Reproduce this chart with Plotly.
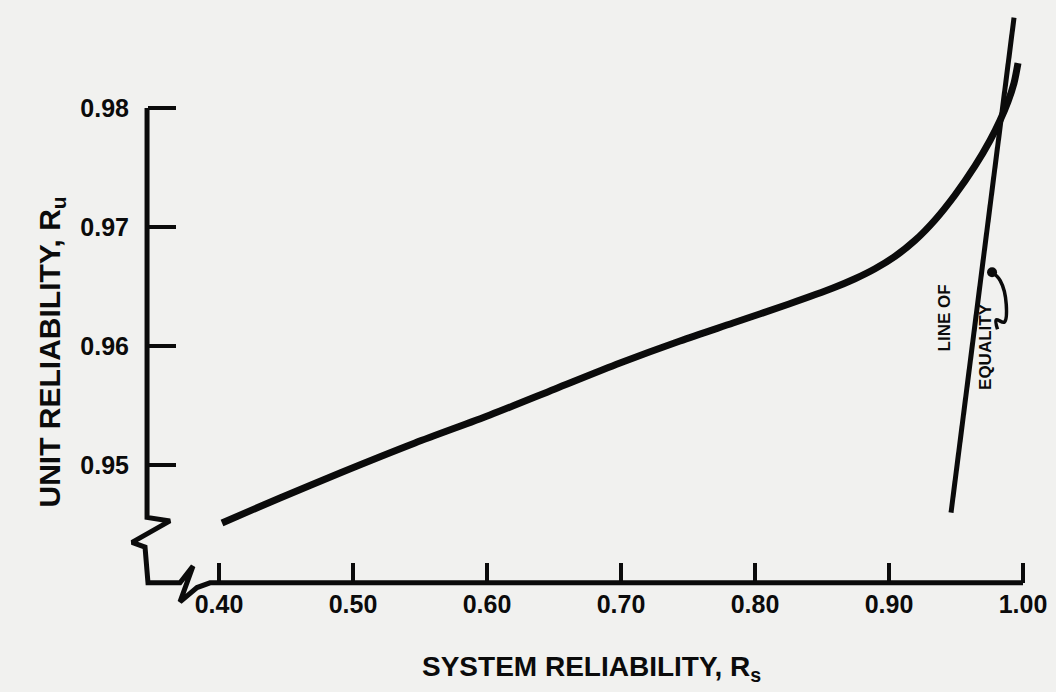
import plotly.graph_objects as go

# Unit reliability needed for a given system reliability
system_rel = [0.40224, 0.44552, 0.49030, 0.54627, 0.60224, 0.65075, 0.69925, 0.74403, 0.78358, 0.82537,
              0.85821, 0.87463, 0.88955, 0.90448, 0.91940, 0.93433, 0.94925, 0.96418, 0.97537, 0.98284,
              0.98881, 0.99328, 0.99627]
unit_rel = [0.94513, 0.94723, 0.94933, 0.95185, 0.95420, 0.95639, 0.95857, 0.96042, 0.96193, 0.96353,
            0.96487, 0.96565, 0.96649, 0.96753, 0.96887, 0.97059, 0.97269, 0.97513, 0.97727, 0.97895,
            0.98055, 0.98210, 0.98378]

# Line of equality (as drawn)
equality_x = [0.9463, 0.9933]
equality_y = [0.9460, 0.9876]

x_ticks = [0.40, 0.50, 0.60, 0.70, 0.80, 0.90, 1.00]
x_tick_labels = ["0.40", "0.50", "0.60", "0.70", "0.80", "0.90", "1.00"]
y_ticks = [0.95, 0.96, 0.97, 0.98]
y_tick_labels = ["0.95", "0.96", "0.97", "0.98"]

W, H = 1056, 692
X_RANGE = [0.236567, 1.024627]
Y_RANGE = [0.930924, 0.989076]

INK = "#0b0b0b"
PAPER = "#f1f1ef"
FAMILY = "Liberation Sans, Arial, Helvetica, sans-serif"
TICK_FONT = dict(family=FAMILY, size=25, color=INK, weight="bold")
X_TITLE_FONT = dict(family=FAMILY, size=28, color=INK, weight="bold")
Y_TITLE_FONT = dict(family=FAMILY, size=30, color=INK, weight="bold")
NOTE_FONT = dict(family=FAMILY, size=17, color=INK, weight="bold")

# axis frame with broken-scale zigzags near the origin
frame_x = [0.3463, 0.3463, 0.3634, 0.3351, 0.3448, 0.3470, 0.3709, 0.3806, 0.3709, 0.3836, 0.3933, 1.0000]
frame_y = [0.9800, 0.9456, 0.9453, 0.9435, 0.9431, 0.9401, 0.9401, 0.9415, 0.9385, 0.9397, 0.9401, 0.9401]

# leader from the label to the line of equality
leader_x = [0.9769, 0.9830, 0.9875, 0.9860, 0.9800, 0.9810]
leader_y = [0.9662, 0.9655, 0.9635, 0.9620, 0.9622, 0.9614]

fig = go.Figure()

fig.add_trace(go.Scatter(x=frame_x, y=frame_y, mode="lines",
                         line=dict(color=INK, width=5), hoverinfo="skip"))
fig.add_trace(go.Scatter(x=system_rel, y=unit_rel, mode="lines",
                         line=dict(color=INK, width=7, shape="spline", smoothing=0.8)))
fig.add_trace(go.Scatter(x=equality_x, y=equality_y, mode="lines",
                         line=dict(color=INK, width=5)))
fig.add_trace(go.Scatter(x=leader_x, y=leader_y, mode="lines",
                         line=dict(color=INK, width=3.5, shape="spline", smoothing=1.0)))
fig.add_trace(go.Scatter(x=leader_x[:1], y=leader_y[:1], mode="markers",
                         marker=dict(color=INK, size=10)))

fig.update_layout(
    width=W, height=H,
    margin=dict(l=0, r=0, t=0, b=0),
    paper_bgcolor=PAPER, plot_bgcolor=PAPER,
    showlegend=False,
    xaxis=dict(range=X_RANGE, domain=[0, 1], anchor="free", position=(H - 583) / H,
               showgrid=False, zeroline=False, showline=False,
               tickmode="array", tickvals=x_ticks, ticktext=x_tick_labels,
               ticks="inside", ticklen=20, tickwidth=4, tickcolor=INK,
               tickfont=TICK_FONT, ticklabelstandoff=4),
    yaxis=dict(range=Y_RANGE, domain=[0, 1], anchor="free", position=147 / W,
               showgrid=False, zeroline=False, showline=False,
               tickmode="array", tickvals=y_ticks, ticktext=y_tick_labels,
               ticks="inside", ticklen=28, tickwidth=4, tickcolor=INK,
               tickfont=TICK_FONT, ticklabelstandoff=18),
)

annotations = [
    dict(text="SYSTEM RELIABILITY, R<sub>s</sub>", x=591 / W, y=(H - 688) / H,
         xref="paper", yref="paper", yanchor="bottom", showarrow=False, font=X_TITLE_FONT),
    dict(text="UNIT RELIABILITY, R<sub>u</sub>", x=30 / W, y=(H - 352) / H, textangle=-90,
         xref="paper", yref="paper", showarrow=False, font=Y_TITLE_FONT),
    dict(text="LINE OF", x=0.9410, y=0.9624, textangle=-90, xref="x", yref="y",
         showarrow=False, font=NOTE_FONT),
    dict(text="EQUALITY", x=0.9716, y=0.9600, textangle=-90, xref="x", yref="y",
         showarrow=False, font=NOTE_FONT),
]
fig.update_layout(annotations=annotations)

fig.write_html("out.html")
